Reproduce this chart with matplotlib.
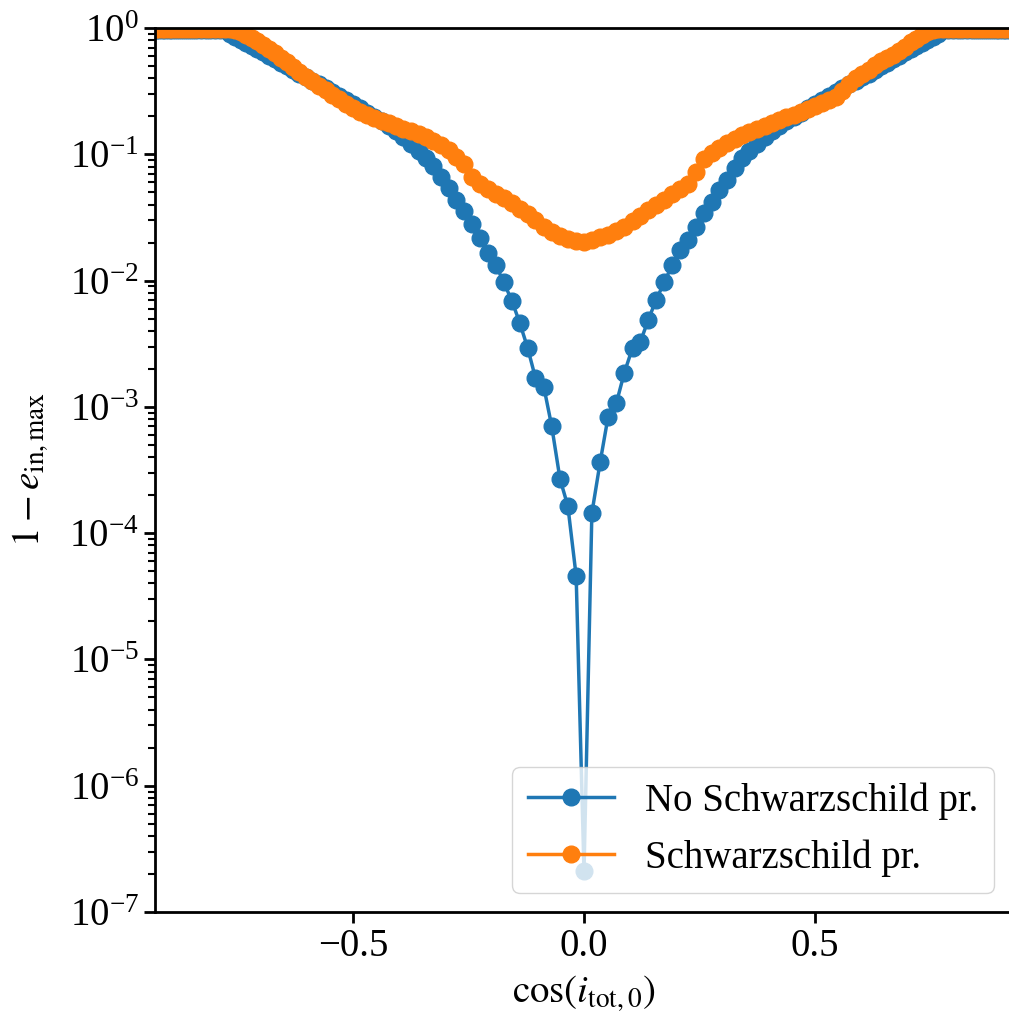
import matplotlib
matplotlib.use("Agg")
import matplotlib.pyplot as plt

plt.rcParams['font.family'] = 'serif'
plt.rcParams['font.serif'] = ['Liberation Serif', 'DejaVu Serif']
plt.rcParams['mathtext.fontset'] = 'stix'
plt.rcParams['font.size'] = 28

# cos of the initial total inclination (one point per degree)
cos_i = [-0.934, -0.927, -0.921, -0.914, -0.906, -0.899, -0.891, -0.883, -0.875, -0.866,
         -0.857, -0.848, -0.839, -0.829, -0.819, -0.809, -0.799, -0.788, -0.777, -0.766,
         -0.755, -0.743, -0.731, -0.719, -0.707, -0.695, -0.682, -0.669, -0.656, -0.643,
         -0.629, -0.616, -0.602, -0.588, -0.574, -0.559, -0.545, -0.530, -0.515, -0.500,
         -0.485, -0.469, -0.454, -0.438, -0.423, -0.407, -0.391, -0.375, -0.358, -0.342,
         -0.326, -0.309, -0.292, -0.276, -0.259, -0.242, -0.225, -0.208, -0.191, -0.174,
         -0.156, -0.139, -0.122, -0.105, -0.087, -0.070, -0.052, -0.035, -0.017, 0.0,
         0.017, 0.035, 0.052, 0.070, 0.087, 0.105, 0.122, 0.139, 0.156, 0.174,
         0.191, 0.208, 0.225, 0.242, 0.259, 0.276, 0.292, 0.309, 0.326, 0.342,
         0.358, 0.375, 0.391, 0.407, 0.423, 0.438, 0.454, 0.469, 0.485, 0.500,
         0.515, 0.530, 0.545, 0.559, 0.574, 0.588, 0.602, 0.616, 0.629, 0.643,
         0.656, 0.669, 0.682, 0.695, 0.707, 0.719, 0.731, 0.743, 0.755, 0.766,
         0.777, 0.788, 0.799, 0.809, 0.819, 0.829, 0.839, 0.848, 0.857, 0.866,
         0.875, 0.883, 0.891, 0.899, 0.906, 0.914, 0.921, 0.927, 0.934]

# 1 - e_max without Schwarzschild precession
no_sp = [0.964, 0.964, 0.964, 0.964, 0.964, 0.964, 0.964, 0.964, 0.964, 0.964,
         0.964, 0.964, 0.964, 0.964, 0.964, 0.964, 0.964, 0.964, 0.964, 0.896,
         0.849, 0.804, 0.761, 0.720, 0.682, 0.646, 0.600, 0.568, 0.528, 0.500,
         0.465, 0.432, 0.409, 0.380, 0.360, 0.335, 0.311, 0.289, 0.269, 0.250,
         0.233, 0.212, 0.197, 0.184, 0.168, 0.153, 0.137, 0.121, 0.106, 0.0935,
         0.0808, 0.0661, 0.0541, 0.0435, 0.0356, 0.0281, 0.0217, 0.0165, 0.0133, 0.00975,
         0.00690, 0.00461, 0.00293, 0.00169, 0.00144, 0.000706, 0.000269, 0.000164, 0.0000458, 2.1e-7,
         0.000144, 0.000366, 0.00083, 0.00107, 0.00185, 0.00293, 0.00327, 0.00488, 0.00702, 0.00975,
         0.0133, 0.0175, 0.0210, 0.0266, 0.0343, 0.0419, 0.0522, 0.0626, 0.0779, 0.0935,
         0.106, 0.121, 0.137, 0.153, 0.168, 0.184, 0.197, 0.212, 0.233, 0.250,
         0.269, 0.289, 0.311, 0.335, 0.360, 0.380, 0.409, 0.432, 0.465, 0.500,
         0.528, 0.568, 0.600, 0.646, 0.682, 0.720, 0.761, 0.804, 0.849, 0.896,
         0.964, 0.964, 0.964, 0.964, 0.964, 0.964, 0.964, 0.964, 0.964, 0.964,
         0.964, 0.964, 0.964, 0.964, 0.964, 0.964, 0.964, 0.964, 0.964]

# 1 - e_max with Schwarzschild precession
with_sp = [0.982, 0.982, 0.982, 0.982, 0.982, 0.982, 0.982, 0.982, 0.982, 0.982,
           0.982, 0.982, 0.982, 0.982, 0.982, 0.982, 0.982, 0.982, 0.982, 0.982,
           0.964, 0.930, 0.880, 0.833, 0.789, 0.733, 0.682, 0.634, 0.579, 0.538,
           0.491, 0.448, 0.409, 0.380, 0.347, 0.323, 0.295, 0.274, 0.250, 0.233,
           0.216, 0.205, 0.194, 0.184, 0.177, 0.168, 0.159, 0.153, 0.145, 0.137,
           0.127, 0.118, 0.108, 0.0952, 0.0838, 0.0661, 0.0582, 0.0531, 0.0485, 0.0451,
           0.0411, 0.0369, 0.0337, 0.0302, 0.0266, 0.0243, 0.0225, 0.0214, 0.0206, 0.0202,
           0.0210, 0.0221, 0.0230, 0.0247, 0.0266, 0.0296, 0.0325, 0.0362, 0.0397, 0.0435,
           0.0485, 0.0531, 0.0582, 0.0724, 0.0918, 0.102, 0.112, 0.123, 0.132, 0.142,
           0.150, 0.159, 0.168, 0.177, 0.187, 0.197, 0.205, 0.216, 0.228, 0.241,
           0.255, 0.269, 0.284, 0.317, 0.360, 0.402, 0.432, 0.465, 0.509, 0.548,
           0.579, 0.611, 0.658, 0.707, 0.775, 0.818, 0.880, 0.930, 0.964, 0.982,
           0.982, 0.982, 0.982, 0.982, 0.982, 0.982, 0.982, 0.982, 0.982, 0.982,
           0.982, 0.982, 0.982, 0.982, 0.982, 0.982, 0.982, 0.982, 0.982]

fig = plt.figure(figsize=(10.09, 10.26), dpi=100)
ax = fig.add_axes([0.1536, 0.1111, 0.8504, 0.8616])

ax.plot(cos_i, no_sp, '-o', color='#1f77b4', lw=2.5, ms=12, label='No Schwarzschild pr.')
ax.plot(cos_i, with_sp, '-o', color='#ff7f0e', lw=2.5, ms=12, label='Schwarzschild pr.')

ax.set_yscale('log')
ax.set_ylim(1e-7, 1)
ax.set_xlim(-0.9286, 0.9286)
ax.set_xticks([-0.5, 0.0, 0.5])

for s in ax.spines.values():
    s.set_linewidth(2)
ax.tick_params(which='major', length=8, width=2, labelsize=28)
ax.tick_params(which='minor', length=5, width=1.5)

ax.set_xlabel(r'$\cos(i_{\rm tot,0})$', fontsize=28, labelpad=6)
ax.set_ylabel(r'$1-e_{\rm in,max}$', fontsize=28, labelpad=14)
ax.legend(loc='lower right', fontsize=28, handlelength=2.2)

fig.savefig('out.png', dpi=100)
